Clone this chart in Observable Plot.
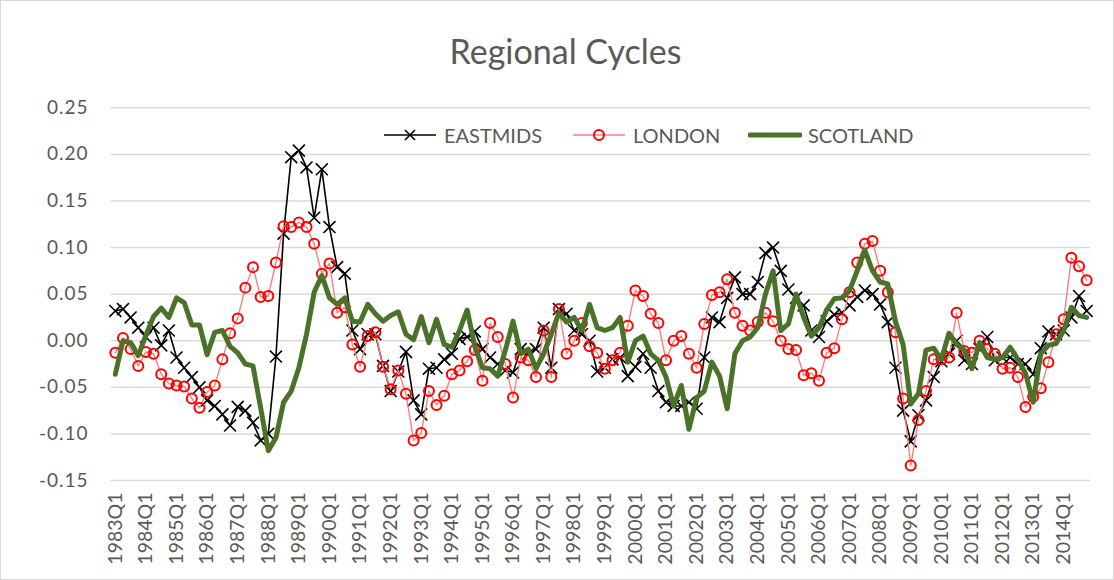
<!DOCTYPE html>
<html>
<head>
<meta charset="utf-8">
<script src="https://cdn.jsdelivr.net/npm/d3@7"></script>
<script src="https://cdn.jsdelivr.net/npm/@observablehq/plot@0.6"></script>
<style>
  html, body { margin: 0; padding: 0; background: #fff; }
  #wrap { position: relative; width: 1114px; height: 580px; overflow: hidden; font-family: Lato, "Open Sans", sans-serif; color: #595959; }
  #frame { position: absolute; left: 0; top: 0; width: 1112px; height: 578px; border: 1px solid #d9d9d9; pointer-events: none; }
  #title { height: 95px; box-sizing: border-box; padding-top: 31px; padding-left: 17px; line-height: 40px; text-align: center; font-size: 34px; font-weight: 400; }
  #chart svg { display: block; }
  #chart g[aria-label="y-axis tick label"] text { letter-spacing: 1px; }
  .leg { position: absolute; top: 121px; height: 28px; display: flex; align-items: center; font-size: 20px; }
  .leg svg { margin-right: 6px; }
</style>
</head>
<body>
<div id="wrap">
  <div id="title">Regional Cycles</div>
  <div id="chart"></div>
  <div id="legend"></div>
  <div id="frame"></div>
</div>
<script>
// ---- categories ----
const startYear = 1983;
const nQuarters = 128;
const quarters = d3.range(nQuarters).map(i => `${startYear + Math.floor(i / 4)}Q${(i % 4) + 1}`);
const xTickLabels = quarters.filter(q => q.endsWith("Q1"));
const yTicks = [-0.15, -0.10, -0.05, 0.00, 0.05, 0.10, 0.15, 0.20, 0.25];
const seriesNames = ["EASTMIDS", "LONDON", "SCOTLAND"];

// ---- series values (1983Q1 .. 2014Q4) ----
const eastmids = [
  0.032, 0.034, 0.025, 0.014, 0.004, 0.014, -0.005, 0.011,
  -0.018, -0.029, -0.039, -0.050, -0.064, -0.070, -0.079, -0.091,
  -0.071, -0.075, -0.088, -0.107, -0.100, -0.017, 0.115, 0.197,
  0.204, 0.186, 0.132, 0.184, 0.122, 0.079, 0.072, 0.011,
  -0.009, 0.007, 0.007, -0.027, -0.054, -0.033, -0.012, -0.064,
  -0.079, -0.030, -0.029, -0.020, -0.014, 0.002, 0.004, 0.010,
  -0.009, -0.018, -0.025, -0.032, -0.034, -0.009, -0.014, -0.009,
  0.014, -0.029, 0.034, 0.029, 0.011, 0.007, 0.000, -0.033,
  -0.029, -0.020, -0.018, -0.038, -0.028, -0.014, -0.029, -0.054,
  -0.066, -0.070, -0.070, -0.066, -0.073, -0.018, 0.025, 0.020,
  0.046, 0.068, 0.050, 0.050, 0.063, 0.094, 0.100, 0.075,
  0.055, 0.046, 0.038, 0.011, 0.004, 0.021, 0.028, 0.030,
  0.038, 0.047, 0.054, 0.050, 0.039, 0.020, -0.029, -0.075,
  -0.108, -0.080, -0.064, -0.039, -0.022, -0.014, 0.000, -0.021,
  -0.025, -0.009, 0.004, -0.021, -0.018, -0.018, -0.025, -0.025,
  -0.036, -0.008, 0.010, 0.007, 0.011, 0.025, 0.048, 0.032
];
const london = [
  -0.013, 0.003, -0.009, -0.027, -0.012, -0.014, -0.036, -0.046,
  -0.048, -0.049, -0.062, -0.072, -0.055, -0.048, -0.020, 0.008,
  0.024, 0.057, 0.079, 0.047, 0.048, 0.084, 0.123, 0.122,
  0.127, 0.122, 0.104, 0.072, 0.083, 0.030, 0.036, -0.004,
  -0.028, 0.005, 0.009, -0.028, -0.052, -0.032, -0.057, -0.107,
  -0.099, -0.054, -0.069, -0.059, -0.036, -0.032, -0.022, -0.010,
  -0.043, 0.019, 0.004, -0.025, -0.061, -0.018, -0.021, -0.039,
  0.011, -0.039, 0.034, -0.014, 0.000, 0.019, -0.006, -0.013,
  -0.030, -0.021, -0.013, 0.016, 0.054, 0.048, 0.029, 0.019,
  -0.021, 0.000, 0.005, -0.014, -0.029, 0.018, 0.049, 0.052,
  0.066, 0.030, 0.016, 0.011, 0.020, 0.030, 0.021, 0.000,
  -0.009, -0.010, -0.037, -0.035, -0.043, -0.013, -0.008, 0.023,
  0.052, 0.084, 0.104, 0.107, 0.075, 0.052, 0.009, -0.062,
  -0.134, -0.085, -0.054, -0.020, -0.020, -0.018, 0.030, -0.011,
  -0.013, 0.000, -0.009, -0.014, -0.030, -0.029, -0.039, -0.071,
  -0.060, -0.051, -0.023, 0.007, 0.023, 0.089, 0.080, 0.065
];
const scotland = [
  -0.036, 0.000, -0.002, -0.016, 0.006, 0.026, 0.035, 0.025,
  0.046, 0.041, 0.017, 0.017, -0.015, 0.009, 0.011, -0.006,
  -0.013, -0.025, -0.027, -0.072, -0.118, -0.104, -0.066, -0.054,
  -0.029, 0.007, 0.052, 0.070, 0.046, 0.039, 0.046, 0.021,
  0.020, 0.039, 0.029, 0.021, 0.027, 0.031, 0.007, 0.001,
  0.026, -0.002, 0.023, -0.004, -0.007, 0.011, 0.033, -0.006,
  -0.029, -0.030, -0.038, -0.010, 0.021, -0.014, -0.009, -0.030,
  -0.014, 0.007, 0.030, 0.020, 0.025, 0.011, 0.039, 0.014,
  0.011, 0.014, 0.025, -0.023, 0.000, 0.005, -0.014, -0.021,
  -0.039, -0.070, -0.048, -0.095, -0.061, -0.054, -0.023, -0.038,
  -0.073, -0.014, 0.000, 0.004, 0.014, 0.050, 0.075, 0.011,
  0.018, 0.050, 0.025, 0.005, 0.014, 0.033, 0.045, 0.046,
  0.054, 0.075, 0.097, 0.075, 0.063, 0.061, 0.021, -0.004,
  -0.068, -0.057, -0.010, -0.008, -0.020, 0.008, -0.004, -0.010,
  -0.030, -0.002, -0.018, -0.020, -0.018, -0.007, -0.020, -0.035,
  -0.066, -0.014, -0.005, -0.003, 0.011, 0.036, 0.027, 0.025
];

// ---- tables ----
const toRows = vals => vals.map((v, i) => ({q: quarters[i], v}));
const eastRows = toRows(eastmids);
const londonRows = toRows(london);
const scotRows = toRows(scotland);

const colEast = "#000000";
const colLondonLine = "#ff7f7f";
const colLondonDot = "#ff0000";
const colScot = "#4b7229";

const chart = Plot.plot({
  width: 1114,
  height: 485,
  marginLeft: 111,
  marginRight: 24,
  marginTop: 12.3,
  marginBottom: 100,
  style: {fontFamily: "Lato, 'Open Sans', sans-serif", color: "#595959", background: "transparent", overflow: "visible"},
  x: {type: "point", domain: quarters, padding: 0.5},
  y: {domain: [-0.15, 0.25]},
  marks: [
    Plot.gridY(yTicks, {stroke: "#d9d9d9", strokeOpacity: 1, strokeWidth: 1.5}),
    Plot.axisY(yTicks, {tickSize: 0, tickPadding: 23, tickFormat: d => d.toFixed(2), fontSize: 19, label: null}),
    Plot.axisX(xTickLabels, {tickSize: 0, tickPadding: 12, tickRotate: -90, fontSize: 19.5, label: null}),
    Plot.line(eastRows, {x: "q", y: "v", stroke: colEast, strokeWidth: 1.6}),
    Plot.dot(eastRows, {x: "q", y: "v", symbol: "times", r: 5.5, stroke: colEast, strokeWidth: 1.6}),
    Plot.line(londonRows, {x: "q", y: "v", stroke: colLondonLine, strokeWidth: 1.4}),
    Plot.dot(londonRows, {x: "q", y: "v", symbol: "circle", r: 5, stroke: colLondonDot, strokeWidth: 2, fill: "none"}),
    Plot.line(scotRows, {x: "q", y: "v", stroke: colScot, strokeWidth: 5, strokeLinejoin: "round"})
  ]
});
document.getElementById("chart").appendChild(chart);

// ---- legend ----
const legendItems = [
  {name: seriesNames[0], left: 384, kind: "times", color: colEast},
  {name: seriesNames[1], left: 573, kind: "circle", color: colLondonDot},
  {name: seriesNames[2], left: 748, kind: "thick", color: colScot}
];
const legend = document.getElementById("legend");
for (const it of legendItems) {
  const div = document.createElement("div");
  div.className = "leg";
  div.style.left = it.left + "px";
  let sym = "";
  if (it.kind === "times") {
    sym = `<line x1="0" y1="14" x2="52" y2="14" stroke="${it.color}" stroke-width="1.6"/>
           <path d="M21,9L31,19M21,19L31,9" stroke="${it.color}" stroke-width="1.6"/>`;
  } else if (it.kind === "circle") {
    sym = `<line x1="0" y1="14" x2="52" y2="14" stroke="${colLondonLine}" stroke-width="1.4"/>
           <circle cx="26" cy="14" r="5" fill="none" stroke="${it.color}" stroke-width="2"/>`;
  } else {
    sym = `<line x1="2" y1="14" x2="52" y2="14" stroke="${it.color}" stroke-width="5" stroke-linecap="round"/>`;
  }
  div.innerHTML = `<svg width="54" height="28">${sym}</svg><span>${it.name}</span>`;
  legend.appendChild(div);
}
</script>
</body>
</html>
